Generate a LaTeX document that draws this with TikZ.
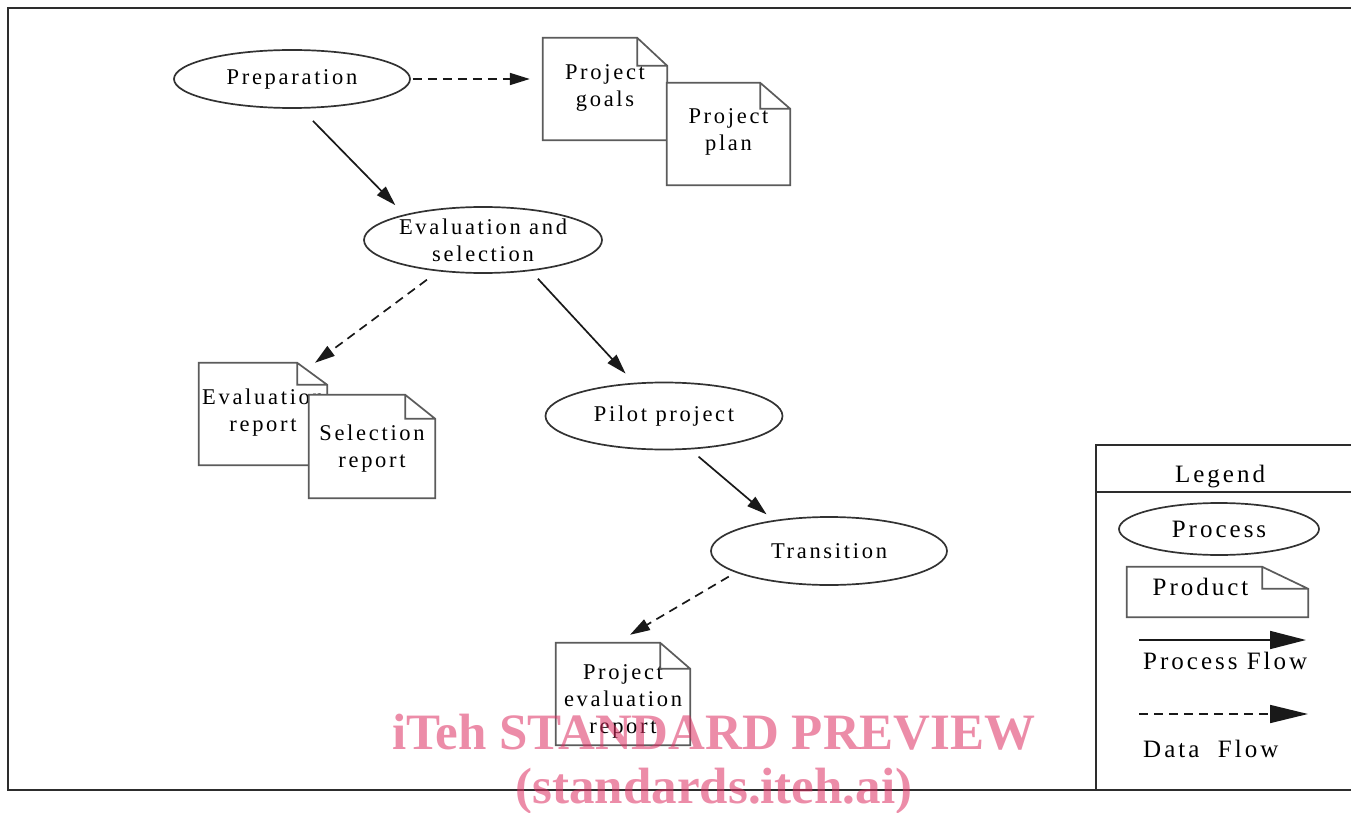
\documentclass[tikz,border=0pt]{standalone}
\usepackage{fontspec}
\setmainfont{Liberation Serif}
\newfontfamily\lblfont[LetterSpace=12]{Liberation Serif}
\usetikzlibrary{arrows.meta}
\usetikzlibrary{shapes.geometric}
\tikzset{>={Triangle[length=20pt,width=12pt]}}
\definecolor{framegray}{RGB}{45,45,45}
\definecolor{linegray}{RGB}{50,50,50}
\definecolor{stamp}{RGB}{220,46,97}
\def\outlinewidth{1.7pt}

% folded-corner outline around a product node: #1 node, #2 fold width, #3 fold height
\newcommand{\docframe}[3]{%
  \draw[linegray!80, line width=\outlinewidth]
    (#1.north west) -- ([xshift=-#2]#1.north east) -- ([yshift=-#3]#1.north east)
    -- (#1.south east) -- (#1.south west) -- cycle
    ([xshift=-#2]#1.north east) |- ([yshift=-#3]#1.north east);}

\tikzset{
  process/.style={ellipse, draw=linegray, line width=\outlinewidth, inner sep=0pt},
  product/.style={rectangle, fill=white, inner sep=0pt, minimum height=102pt},
  proclabel/.style={font=\lblfont\fontsize{22.5pt}{27pt}\selectfont, align=center, inner sep=0pt},
  doclabel/.style={proclabel, anchor=north},
  leglabel/.style={font=\lblfont\fontsize{25pt}{30pt}\selectfont, inner sep=0pt},
  procflow/.style={->, line width=\outlinewidth, black!90},
  dataflow/.style={procflow, dash pattern=on 9pt off 6pt},
  stamptext/.style={font=\fontsize{51pt}{51pt}\selectfont\bfseries, text=stamp, text opacity=0.55, inner sep=0pt},
}

\begin{document}
\begin{tikzpicture}[x=1pt, y=-1pt]
  \useasboundingbox (0,0) rectangle (1351,813);
  % frame
  \draw[framegray, line width=2.2pt] (8,8) rectangle (1380,790);

  % processes
  \node[process, minimum width=236pt, minimum height=58pt,
        label={[proclabel]center:Preparation}] (prep) at (292,79) {};
  \node[process, minimum width=238pt, minimum height=66pt,
        label={[proclabel]center:Evaluation and\\selection}] (evsel) at (483,240) {};
  \node[process, minimum width=237pt, minimum height=67pt,
        label={[proclabel]center:Pilot project}] (pilot) at (664,416) {};
  \node[process, minimum width=236pt, minimum height=68pt,
        label={[proclabel]center:Transition}] (trans) at (829,551) {};

  % products
  \node[product, minimum width=124pt,
        label={[doclabel, yshift=-27pt]north:Project\\goals}] (goals) at (605,89) {};
  \docframe{goals}{30pt}{28pt}
  \node[product, minimum width=123pt,
        label={[doclabel, yshift=-26pt]north:Project\\plan}] (plan) at (728.5,134) {};
  \docframe{plan}{30pt}{26pt}
  \node[product, minimum width=128pt,
        label={[doclabel, yshift=-26pt]north:Evaluation\\report}] (evrep) at (263,414) {};
  \docframe{evrep}{30pt}{22pt}
  \node[product, minimum width=126pt, minimum height=103pt,
        label={[doclabel, yshift=-30pt]north:Selection\\report}] (selrep) at (372,446.5) {};
  \docframe{selrep}{30pt}{24pt}
  \node[product, minimum width=134pt,
        label={[doclabel, yshift=-22pt]north:Project\\evaluation\\report}] (perep) at (623,694) {};
  \docframe{perep}{30pt}{26pt}

  % flows
  \draw[dataflow, shorten <=2pt, shorten >=13pt] (prep.east) -- (prep.east -| goals.west);
  \draw[procflow, shorten <=17pt, shorten >=13pt] (prep.-73) -- (evsel.162);
  \draw[dataflow, shorten <=14pt] (evsel.-145) -- ([xshift=52pt]evrep.north);
  \draw[procflow, shorten <=10.5pt, shorten >=12.5pt] (evsel.-33) -- (pilot.132);
  \draw[procflow, shorten <=11pt, shorten >=9pt] (pilot.-52) -- (trans.151);
  \draw[dataflow, shorten <=8pt] (trans.-167) -- ([xshift=7pt,yshift=8pt]perep.north);

  % legend
  \draw[framegray, line width=2.2pt] (1096,445) rectangle (1380,790);
  \draw[framegray, line width=1.8pt] (1096,492) -- (1380,492);
  \node[leglabel] (legtitle) at (1220,477) {Legend};
  \node[process, minimum width=200pt, minimum height=52pt,
        label={[leglabel]center:Process}] (legproc) at (1219,529) {};
  \node[product, minimum width=181pt, minimum height=50pt,
        label={[leglabel, xshift=-17pt, yshift=5pt]center:Product}] (legprod) at (1217.5,592) {};
  \docframe{legprod}{46pt}{22pt}
  \coordinate (pfa) at (1139,640);
  \coordinate (pfb) at (1306,640);
  \draw[procflow, -{Triangle[length=36pt,width=18pt]}] (pfa) -- (pfb);
  \node[leglabel, anchor=west] (pftext) at (1143,661) {Process Flow};
  \coordinate (dfa) at (1139,714);
  \coordinate (dfb) at (1308,714);
  \draw[dataflow, -{Triangle[length=38pt,width=18pt]}] (dfa) -- (dfb);
  \node[leglabel, anchor=west] (dftext) at (1143,749) {Data\ \ Flow};

  % stamp
  \node[stamptext, anchor=base] (wm1) at (714,749) {iTeh STANDARD PREVIEW};
  \node[stamptext, anchor=base] (wm2) at (714,803) {(standards.iteh.ai)};
\end{tikzpicture}
\end{document}
